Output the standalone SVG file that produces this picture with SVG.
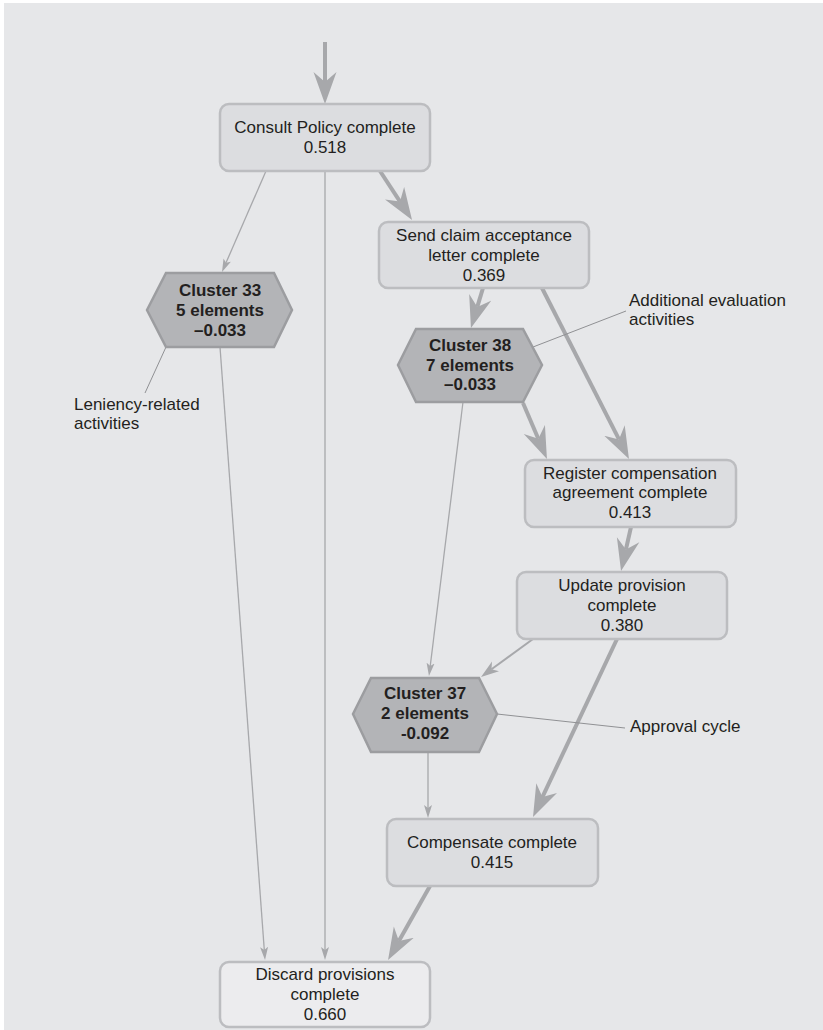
<svg xmlns="http://www.w3.org/2000/svg" width="823" height="1030" viewBox="0 0 823 1030">
<defs>
<style>
.bg{fill:#e6e7e9}
.box{fill:#dcdde0;stroke:#bcbdc0;stroke-width:2.5}
.box.light{fill:#ececee}
.hex{fill:#b3b4b7;stroke:#9c9da0;stroke-width:2.5}
text{font-family:"Liberation Sans",Arial,sans-serif;font-size:17px;fill:#231f20}
.c{text-anchor:middle}
.b{font-weight:bold}
.e{fill:none;stroke:#a7a8ab}
.thick{stroke-width:4;marker-end:url(#hT)}
.thin{stroke-width:1.3;marker-end:url(#hS)}
.med{stroke-width:2;marker-end:url(#hM)}
.note{fill:none;stroke:#909194;stroke-width:1}
</style>
<marker id="hT" markerUnits="userSpaceOnUse" viewBox="0 -12 33 24" refX="10" refY="0" markerWidth="33" markerHeight="24" orient="auto"><path d="M0,-11.5 L32,0 L0,11.5 L10,0 Z" fill="#a7a8ab"/></marker>
<marker id="hS" markerUnits="userSpaceOnUse" viewBox="0 -5 14 10" refX="3" refY="0" markerWidth="14" markerHeight="10" orient="auto"><path d="M0,-4 L13,0 L0,4 L3,0 Z" fill="#a7a8ab"/></marker>
<marker id="hM" markerUnits="userSpaceOnUse" viewBox="0 -7 19 14" refX="5" refY="0" markerWidth="19" markerHeight="14" orient="auto"><path d="M0,-6 L18,0 L0,6 L5,0 Z" fill="#a7a8ab"/></marker>
</defs>
<rect x="0" y="0" width="823" height="1030" fill="#ffffff"/>
<rect class="bg" x="4" y="3" width="819" height="1027"/>

<g id="connectors">
<path class="e thick" d="M325,42 L325,82"/>
<path class="e thick" d="M380,171 L400,201.6"/>
<path class="e thin" d="M266,171 L226,262.8"/>
<path class="e thin" d="M325,171 L325,950"/>
<path class="e thin" d="M220,347 L264.3,950"/>
<path class="e thick" d="M483,288 L477.3,306.9"/>
<path class="e thick" d="M542,288 L619,439.4"/>
<path class="e thick" d="M523,403 L538.3,438.8"/>
<path class="e thick" d="M631,527 L625.9,549.5"/>
<path class="e thin" d="M463,402 L430.2,666.1"/>
<path class="e med" d="M533,639 L491.5,669.3"/>
<path class="e thick" d="M617,639 L542.4,797.1"/>
<path class="e thin" d="M428,752 L428,808"/>
<path class="e thick" d="M430,886 L398.9,940.9"/>
<path class="note" d="M166,347 L145,393"/>
<path class="note" d="M533,347 L626,311"/>
<path class="note" d="M497,714 L625,728"/>
</g>

<g id="consult">
<rect class="box" x="220" y="104" width="210" height="67" rx="9"/>
<text class="c" x="325" y="133">Consult Policy complete</text>
<text class="c" x="325" y="153">0.518</text>
</g>

<g id="send">
<rect class="box" x="379" y="222" width="210" height="66" rx="9"/>
<text class="c" x="484" y="241">Send claim acceptance</text>
<text class="c" x="484" y="261">letter complete</text>
<text class="c" x="484" y="281">0.369</text>
</g>

<g id="cluster33">
<polygon class="hex" points="147,310 166,273 274,273 292,310 274,347 166,347"/>
<text class="c b" x="220" y="296">Cluster 33</text>
<text class="c b" x="220" y="316">5 elements</text>
<text class="c b" x="220" y="336">–0.033</text>
</g>

<g id="label-leniency">
<text x="74" y="410">Leniency-related</text>
<text x="74" y="429">activities</text>
</g>

<g id="cluster38">
<polygon class="hex" points="398,365 416,329 523,329 542,365 523,402 416,402"/>
<text class="c b" x="470" y="351">Cluster 38</text>
<text class="c b" x="470" y="371">7 elements</text>
<text class="c b" x="470" y="390">–0.033</text>
</g>

<g id="label-additional">
<text x="629" y="306">Additional evaluation</text>
<text x="629" y="325">activities</text>
</g>

<g id="register">
<rect class="box" x="525" y="460" width="211" height="67" rx="9"/>
<text class="c" x="630" y="479">Register compensation</text>
<text class="c" x="630" y="498">agreement complete</text>
<text class="c" x="630" y="518">0.413</text>
</g>

<g id="update">
<rect class="box" x="517" y="572" width="210" height="67" rx="9"/>
<text class="c" x="622" y="591">Update provision</text>
<text class="c" x="622" y="611">complete</text>
<text class="c" x="622" y="631">0.380</text>
</g>

<g id="cluster37">
<polygon class="hex" points="353,714 371,678 479,678 497,714 479,752 371,752"/>
<text class="c b" x="425" y="699">Cluster 37</text>
<text class="c b" x="425" y="719">2 elements</text>
<text class="c b" x="425" y="739">-0.092</text>
</g>

<g id="label-approval">
<text x="630" y="732">Approval cycle</text>
</g>

<g id="compensate">
<rect class="box" x="387" y="819" width="211" height="67" rx="9"/>
<text class="c" x="492" y="848">Compensate complete</text>
<text class="c" x="492" y="868">0.415</text>
</g>

<g id="discard">
<rect class="box light" x="220" y="962" width="210" height="65" rx="9"/>
<text class="c" x="325" y="980">Discard provisions</text>
<text class="c" x="325" y="1000">complete</text>
<text class="c" x="325" y="1020">0.660</text>
</g>
</svg>
